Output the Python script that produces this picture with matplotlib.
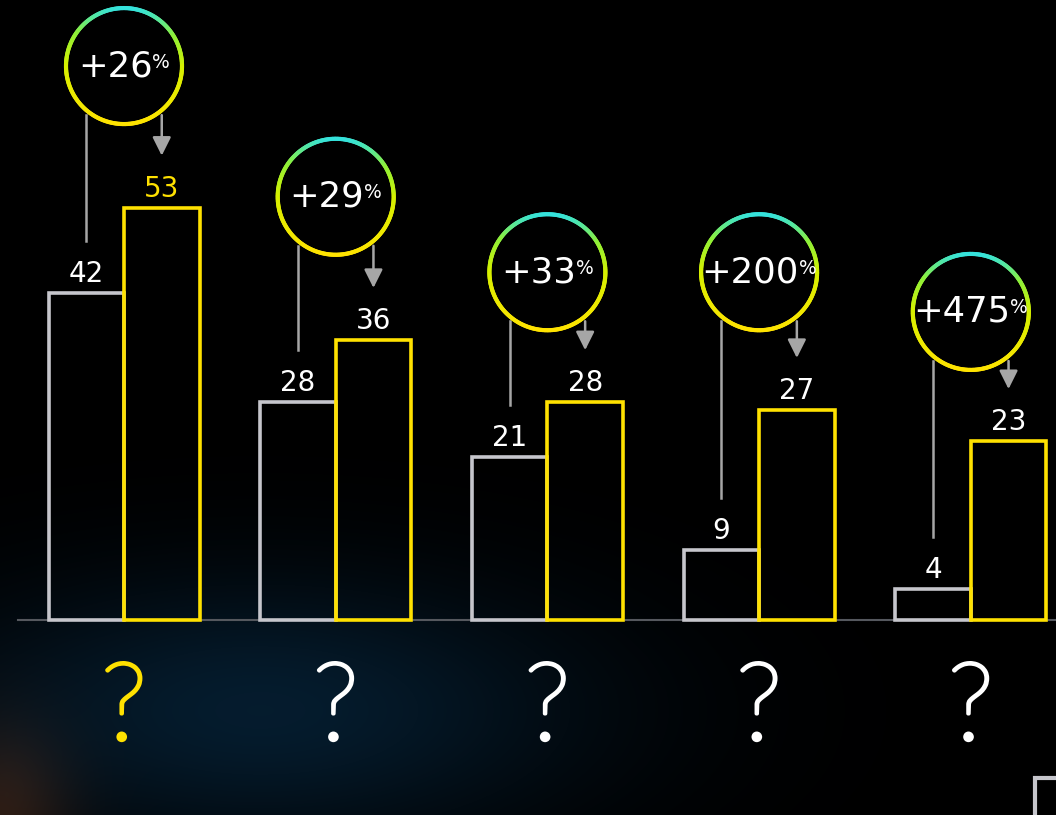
import numpy as np
import matplotlib.pyplot as plt
import matplotlib.patheffects as pe
from matplotlib.patches import Rectangle
from matplotlib.collections import LineCollection
from matplotlib.colors import LinearSegmentedColormap

# values
before = [42, 28, 21, 9, 4]
after = [53, 36, 28, 27, 23]
growth = ['+26', '+29', '+33', '+200', '+475']
circle_y = [71.2, 54.4, 44.7, 44.7, 39.6]   # circle centres, in value units
highlight = 0   # group drawn in yellow

W, H = 1056, 815
YELLOW = '#ffe100'
GREY = '#c6c6cc'
LINE = '#a6a6a6'

fig = plt.figure(figsize=(W / 100, H / 100), dpi=100)
fig.patch.set_facecolor('black')
ax = fig.add_axes([0, 0, 1, 1])
ax.set_axis_off()

px_x = 211.7   # pixels per group
px_y = 7.78    # pixels per unit
x0 = 124       # pixel x of first group centre
base = 620     # pixel y of baseline
ax.set_xlim(-x0 / px_x, (W - x0) / px_x)
ax.set_ylim(-(H - base) / px_y, base / px_y)

# dark background with a faint blue and orange glow low on the left
yy, xx = np.mgrid[0:H, 0:W]
blue = np.exp(-(((xx - 260) / 320.0) ** 2 + ((yy - 710) / 130.0) ** 2))
orange = np.exp(-(((xx - 0) / 70.0) ** 2 + ((yy - 815) / 90.0) ** 2))
img = np.zeros((H, W, 3))
img += blue[..., None] * np.array([0.02, 0.11, 0.18])
img += orange[..., None] * np.array([0.17, 0.08, 0.03])
ax.imshow(np.clip(img, 0, 1), extent=[*ax.get_xlim(), *ax.get_ylim()],
          aspect='auto', zorder=0, interpolation='bilinear')

x = np.arange(len(before))
bw = 75.5 / px_x

ax.axhline(0, xmin=18 / W, color='#55585e', lw=1.5, zorder=2)
ax.bar(x - bw / 2, before, width=bw, fill=False, edgecolor=GREY, lw=2.6, zorder=3)
ax.bar(x + bw / 2, after, width=bw, fill=False, edgecolor=YELLOW, lw=2.6, zorder=4)

for i in x:
    c = YELLOW if i == highlight else 'white'
    ax.text(i - bw / 2, before[i] + 11 / px_y, str(before[i]), ha='center',
            va='baseline', color='white', fontsize=20, zorder=5)
    ax.text(i + bw / 2, after[i] + 11 / px_y, str(after[i]), ha='center',
            va='baseline', color=c, fontsize=20, zorder=5)
    ax.text(i, -11.6, '?', ha='center', va='center', color=c, fontsize=78,
            family='Lato', fontweight='light', zorder=5,
            path_effects=[pe.withStroke(linewidth=2.6, foreground=c)])

# gradient circles with growth figures
r = 58
cmap = LinearSegmentedColormap.from_list(
    'ring', [(0, '#35e2dc'), (0.22, '#8ef03a'), (0.5, '#d6f000'), (1, '#ffe300')])
t = np.linspace(0, 2 * np.pi, 241)
renderer = fig.canvas.get_renderer()
for i in x:
    cy = circle_y[i]
    cxs = i + r * np.cos(t) / px_x
    cys = cy + r * np.sin(t) / px_y
    pts = np.column_stack([cxs, cys]).reshape(-1, 1, 2)
    segs = np.concatenate([pts[:-1], pts[1:]], axis=1)
    tmid = (1 - np.sin((t[:-1] + t[1:]) / 2)) / 2
    lc = LineCollection(segs, colors=cmap(tmid), lw=3, zorder=5, capstyle='round')
    ax.add_collection(lc)

    main = ax.annotate(growth[i], xy=(i, cy), xytext=(0, 0), textcoords='offset pixels',
                       ha='left', va='center', color='white', fontsize=25.5, zorder=6)
    pct = ax.annotate('%', xy=(i, cy), xytext=(0, 0), textcoords='offset pixels',
                      ha='left', va='center', color='white', fontsize=13.5, zorder=6)
    w1 = main.get_window_extent(renderer).width
    w2 = pct.get_window_extent(renderer).width
    left = -(w1 + w2) / 2
    main.set_position((left, 0))
    pct.set_position((left + w1, 4))

    # connector line to the old value and arrow to the new one
    dx = bw / 2 * px_x
    edge = np.sqrt(r ** 2 - dx ** 2)
    y_start = cy - (edge + 5) / px_y
    ax.plot([i - bw / 2, i - bw / 2], [y_start, before[i] + 52 / px_y],
            color=LINE, lw=1.8, zorder=4)
    ax.annotate('', xy=(i + bw / 2, after[i] + 52 / px_y), xytext=(i + bw / 2, y_start),
                arrowprops=dict(arrowstyle='-|>,head_length=0.4,head_width=0.2',
                                color=LINE, lw=1.8, mutation_scale=28,
                                shrinkA=0, shrinkB=0), zorder=4)

# cut-off legend box in the corner
fig.add_artist(Rectangle((1035 / W, -0.02), 0.05, 0.02 + 37 / H, transform=fig.transFigure,
                         fill=False, edgecolor=GREY, lw=3))

fig.savefig('out.png', dpi=100, facecolor='black')
